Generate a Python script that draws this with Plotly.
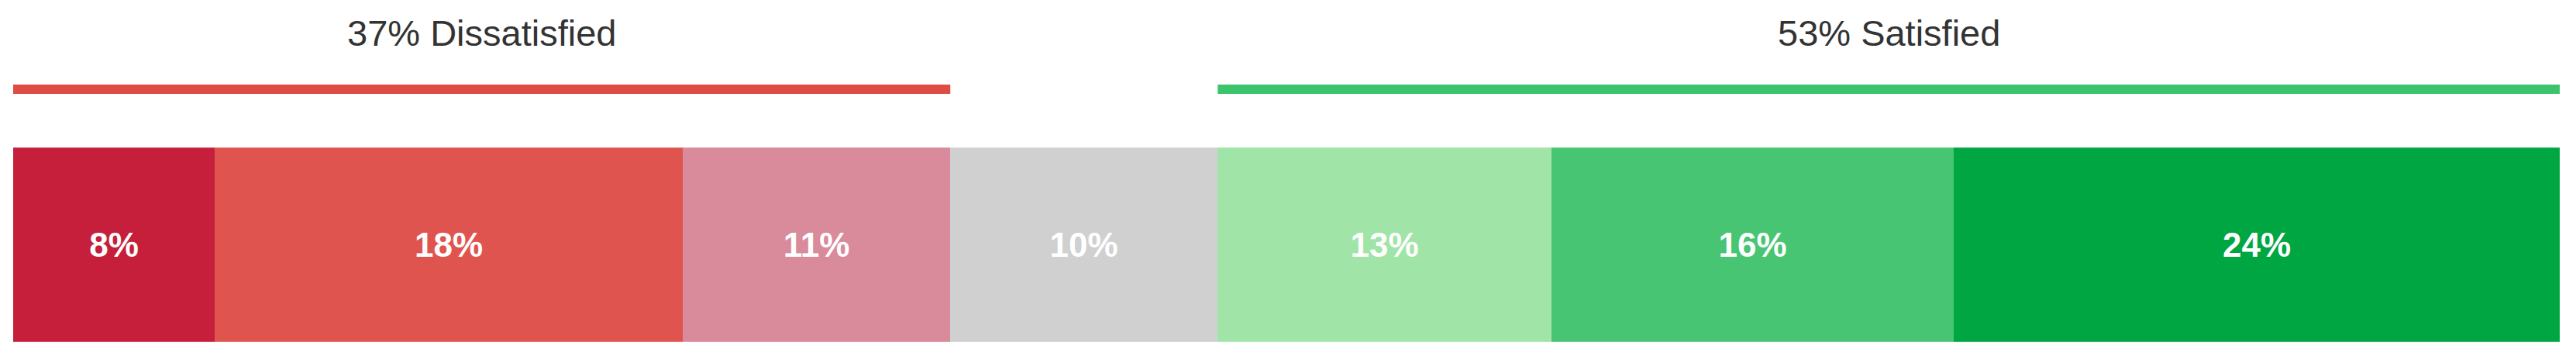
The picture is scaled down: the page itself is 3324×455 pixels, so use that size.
import plotly.graph_objects as go

# segment values (share of respondents, %)
categories = ["Very dissatisfied", "Dissatisfied", "Somewhat dissatisfied", "Neutral",
              "Somewhat satisfied", "Satisfied", "Very satisfied"]
values = [7.9, 18.4, 10.5, 10.5, 13.1, 15.8, 23.8]
labels = ["8%", "18%", "11%", "10%", "13%", "16%", "24%"]
colors = ["#C51F3C", "#E0544F", "#D98A9B", "#D0D0D0", "#A0E4A8", "#47C573", "#00A642"]

group_titles = ["37% Dissatisfied", "53% Satisfied"]
group_colors = ["#DF4C44", "#3CC46C"]

# page has an 8px body margin, so the figure is a bit smaller than the window
W, H = 3308, 439
fig = go.Figure()

for cat, val, lab, col in zip(categories, values, labels, colors):
    fig.add_trace(go.Bar(
        y=[""], x=[val], name=cat, orientation="h",
        marker=dict(color=col, line=dict(width=0)),
        text=[lab], textposition="inside", insidetextanchor="middle",
        textfont=dict(family="Liberation Sans, Arial", size=44, color="white", weight="bold"),
        textangle=0, hoverinfo="skip",
    ))

# bracket lines over the dissatisfied / satisfied groups
dis_end = sum(values[:3])
sat_start = sum(values[:4])
total = sum(values)
spans = [(0, dis_end), (sat_start, total)]
for (x0, x1), title, col in zip(spans, group_titles, group_colors):
    fig.add_shape(type="line", xref="x", yref="paper", x0=x0, x1=x1, y0=0.756, y1=0.756,
                  line=dict(color=col, width=12))
    fig.add_annotation(x=(x0 + x1) / 2, xref="x", y=0.922, yref="paper", text=title,
                       showarrow=False, xanchor="center", yanchor="middle",
                       font=dict(family="Liberation Sans, Arial", size=47, color="#333333"))

fig.update_layout(
    width=W, height=H, barmode="stack", bargap=0, showlegend=False,
    margin=dict(l=9, r=13, t=0, b=0),
    paper_bgcolor="white", plot_bgcolor="white",
    xaxis=dict(range=[0, total], visible=False, fixedrange=True),
    yaxis=dict(domain=[0.014, 0.585], visible=False, range=[-0.5, 0.5]),
)

fig.write_html("out.html")
